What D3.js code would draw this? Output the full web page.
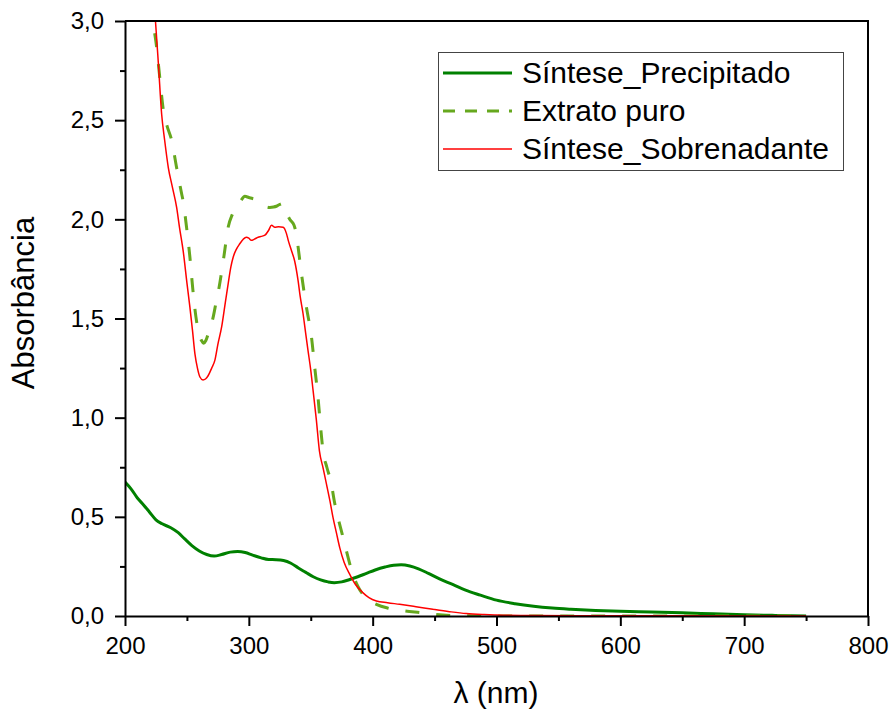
<!DOCTYPE html>
<html>
<head>
<meta charset="utf-8">
<script src="https://cdn.jsdelivr.net/npm/d3@7"></script>
<style>
  body { margin: 0; background: #fff; }
  svg { display: block; font-family: Arial, "Liberation Sans", sans-serif; }
</style>
</head>
<body>
<div id="chart"></div>
<script>
// wavelength (nm), absorbance pairs
const precipitado = [
  [200, 0.675], [205, 0.64], [210, 0.595], [215, 0.56], [220, 0.522], [225, 0.485],
  [230, 0.465], [237, 0.445], [243, 0.42], [248, 0.39], [254, 0.355], [260, 0.328],
  [266, 0.31], [272, 0.302], [278, 0.31], [285, 0.322], [291, 0.325], [297, 0.32],
  [303, 0.307], [310, 0.293], [316, 0.285], [322, 0.284], [328, 0.28], [334, 0.266],
  [340, 0.242], [346, 0.22], [352, 0.198], [358, 0.182], [364, 0.172], [369, 0.168],
  [375, 0.172], [381, 0.183], [388, 0.198], [395, 0.215], [402, 0.232], [410, 0.247],
  [417, 0.256], [423, 0.258], [430, 0.252], [437, 0.238], [445, 0.215], [454, 0.187],
  [465, 0.158], [475, 0.13], [487, 0.105], [500, 0.08], [515, 0.062], [530, 0.049],
  [545, 0.04], [560, 0.034], [580, 0.028], [600, 0.024], [625, 0.02], [650, 0.016],
  [675, 0.011], [700, 0.006], [725, 0.003], [750, 0.0]
]

const extrato = [
  [220, 3.25], [222.8, 3.0], [225.5, 2.87], [228, 2.72], [231, 2.55], [234, 2.47],
  [237.6, 2.4], [241.7, 2.26], [245.7, 2.13], [247, 2.09], [249.7, 1.96], [252.4, 1.81],
  [254.6, 1.658], [257.3, 1.507], [259.5, 1.43], [261.8, 1.389], [263.5, 1.375],
  [265.3, 1.389], [268, 1.44], [271.2, 1.507], [273.5, 1.58], [276, 1.658], [279.8, 1.81],
  [283.3, 1.96], [287, 2.03], [290, 2.07], [292.7, 2.087], [296.8, 2.116], [300, 2.11],
  [303, 2.105], [307.5, 2.096], [310, 2.08], [313, 2.066], [317, 2.06], [320, 2.062],
  [322.3, 2.066], [325, 2.075], [327.7, 2.08], [330, 2.04], [333, 2.0], [336.5, 1.97],
  [338.5, 1.92], [339.8, 1.86], [342.5, 1.726], [346.5, 1.557], [350.6, 1.406],
  [353.2, 1.254], [355.9, 1.1], [358, 0.95], [359.9, 0.833], [363, 0.75], [366.7, 0.665],
  [369, 0.58], [372, 0.496], [375.5, 0.41], [378.8, 0.328], [384, 0.21], [388, 0.15],
  [392, 0.11], [397, 0.08], [403, 0.059], [412, 0.04], [421.8, 0.029], [438, 0.017],
  [456.7, 0.005], [475, 0.001], [500, 0], [600, 0], [750, 0]
]

const sobrenadante = [
  [220, 3.3], [224.6, 3.0], [227, 2.78], [229.6, 2.53], [232, 2.4], [235, 2.26],
  [238, 2.17], [241.7, 2.06], [244, 1.96], [247, 1.84], [250, 1.68], [252.4, 1.557],
  [254.5, 1.44], [256.5, 1.32], [258.5, 1.25], [260.5, 1.205], [263, 1.19], [265, 1.195],
  [267, 1.21], [270, 1.25], [272.6, 1.29], [275, 1.37], [278, 1.456], [281, 1.58],
  [283.3, 1.675], [285.5, 1.76], [287.4, 1.81], [290, 1.85], [292.7, 1.877], [295.5, 1.9],
  [298, 1.91], [300, 1.905], [302, 1.894], [304.5, 1.9], [307.5, 1.91], [310, 1.914],
  [313, 1.92], [316, 1.945], [318.3, 1.97], [321, 1.96], [324, 1.962], [327.7, 1.96],
  [330.4, 1.928], [332, 1.89], [334.4, 1.843], [337, 1.79], [339.8, 1.69], [341.5, 1.61],
  [343.8, 1.524], [345.8, 1.43], [347.8, 1.338], [350, 1.24], [351.9, 1.136],
  [354.5, 0.99], [357, 0.833], [360, 0.745], [362.7, 0.665], [365.5, 0.58], [368, 0.496],
  [370.7, 0.42], [373.4, 0.345], [377, 0.27], [381.5, 0.21], [386, 0.16], [392, 0.118],
  [397, 0.093], [403, 0.076], [412, 0.067], [421.8, 0.059], [435, 0.047], [448.6, 0.034],
  [462, 0.022], [475.5, 0.012], [490, 0.007], [500, 0.005], [530, 0.002], [600, 0.001],
  [700, 0.0005], [750, 0.0003]
]

const seriesNames = ['Síntese_Precipitado', 'Extrato puro', 'Síntese_Sobrenadante']
const xMajorTicks = [200, 300, 400, 500, 600, 700, 800]
const xMinorTicks = [250, 350, 450, 550, 650, 750]
const yMajorTicks = [0, 0.5, 1.0, 1.5, 2.0, 2.5, 3.0]
const yMinorTicks = [0.25, 0.75, 1.25, 1.75, 2.25, 2.75]

const width = 891
const height = 710
const plot = {left: 125, right: 868, top: 21, bottom: 616}

const styles = [
  {color: '#008000', width: 3, dash: null},
  {color: '#66a81e', width: 3, dash: '14,17'},
  {color: '#ff0000', width: 1.5, dash: null}
]

const svg = d3.select('#chart')
  .append('svg')
  .attr('width', width)
  .attr('height', height)

const x = d3.scaleLinear().domain([200, 800]).range([plot.left, plot.right])
const y = d3.scaleLinear().domain([0, 3]).range([plot.bottom, plot.top])

const fmt = d => d3.format('.1f')(d).replace('.', ',')

svg.append('defs').append('clipPath')
  .attr('id', 'clip')
  .append('rect')
  .attr('x', plot.left)
  .attr('y', plot.top)
  .attr('width', plot.right - plot.left)
  .attr('height', plot.bottom - plot.top)

// curves
const line = d3.line()
  .x(d => x(d[0]))
  .y(d => y(d[1]))
  .curve(d3.curveMonotoneX)

const curves = svg.append('g').attr('clip-path', 'url(#clip)')
;[precipitado, extrato, sobrenadante].forEach((data, i) => {
  curves.append('path')
    .datum(data)
    .attr('d', line)
    .attr('fill', 'none')
    .attr('stroke', styles[i].color)
    .attr('stroke-width', styles[i].width)
    .attr('stroke-dasharray', styles[i].dash)
    .attr('stroke-linejoin', 'round')
})

// axes
function styleAxis(g) {
  g.selectAll('.domain').attr('stroke-width', 2)
  g.selectAll('.tick line').attr('stroke-width', 2)
  g.selectAll('text').attr('font-size', 24).attr('fill', '#000')
    .attr('font-family', 'Arial, "Liberation Sans", sans-serif')
}

svg.append('g')
  .attr('transform', `translate(0,${plot.bottom})`)
  .call(d3.axisBottom(x).tickValues(xMinorTicks).tickSize(5).tickFormat('').tickSizeOuter(0))
  .call(g => g.select('.domain').remove())
  .call(styleAxis)

svg.append('g')
  .attr('transform', `translate(0,${plot.bottom})`)
  .call(d3.axisBottom(x).tickValues(xMajorTicks).tickSize(10).tickPadding(11).tickSizeOuter(0))
  .call(styleAxis)

svg.append('g')
  .attr('transform', `translate(${plot.left},0)`)
  .call(d3.axisLeft(y).tickValues(yMinorTicks).tickSize(5).tickFormat('').tickSizeOuter(0))
  .call(g => g.select('.domain').remove())
  .call(styleAxis)

svg.append('g')
  .attr('transform', `translate(${plot.left},0)`)
  .call(d3.axisLeft(y).tickValues(yMajorTicks).tickSize(10).tickPadding(11)
    .tickFormat(fmt).tickSizeOuter(0))
  .call(styleAxis)

// top and right frame
svg.append('line')
  .attr('x1', plot.left).attr('x2', plot.right)
  .attr('y1', plot.top).attr('y2', plot.top)
  .attr('stroke', '#000').attr('stroke-width', 2)
svg.append('line')
  .attr('x1', plot.right).attr('x2', plot.right)
  .attr('y1', plot.top - 1).attr('y2', plot.bottom)
  .attr('stroke', '#000').attr('stroke-width', 2)

// axis titles
svg.append('text')
  .attr('transform', `translate(34,303) rotate(-90)`)
  .attr('text-anchor', 'middle')
  .attr('font-size', 31)
  .text('Absorbância')

svg.append('text')
  .attr('x', 496)
  .attr('y', 703)
  .attr('text-anchor', 'middle')
  .attr('font-size', 30)
  .text('λ (nm)')

// legend
const legend = svg.append('g')
legend.append('rect')
  .attr('x', 438.5).attr('y', 52.5)
  .attr('width', 405).attr('height', 118)
  .attr('fill', '#fff')
  .attr('stroke', '#444')
  .attr('stroke-width', 1)

seriesNames.forEach((name, i) => {
  const cy = 73 + i * 38
  legend.append('line')
    .attr('x1', 443).attr('x2', 512)
    .attr('y1', cy).attr('y2', cy)
    .attr('stroke', styles[i].color)
    .attr('stroke-width', styles[i].width)
    .attr('stroke-dasharray', styles[i].dash ? '12,10' : null)
  legend.append('text')
    .attr('x', 522)
    .attr('y', cy + 10)
    .attr('font-size', 30)
    .text(name)
})
</script>
</body>
</html>
